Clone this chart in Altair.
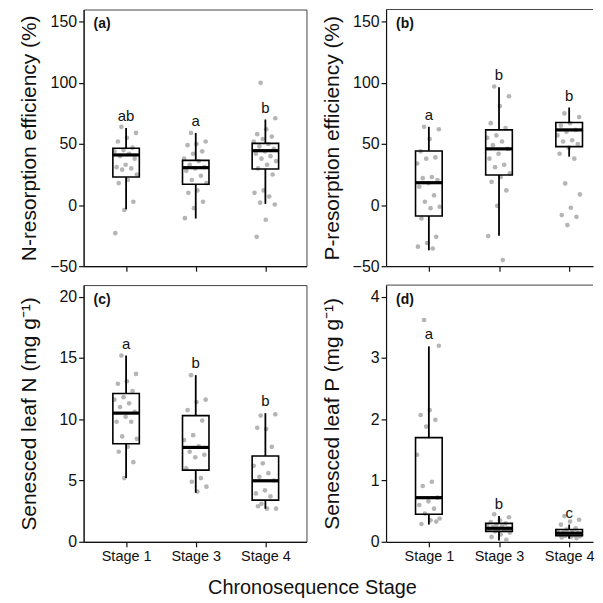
import altair as alt
import pandas as pd

FONT = "Liberation Sans"

stages = ["Stage 1", "Stage 3", "Stage 4"]

# Panel (a) N-resorption efficiency
a_s1 = [64, 59, 55, 52, 47, 45, 44, 42, 40, 38, 33, 31, 30, 29, 25, 20.5, 18, 2.7, -4, -23]
a_s3 = [59, 52, 50, 49, 44, 42, 38, 36, 33, 31, 30, 28, 24, 20.5, 18, 12, 10, 2.7, -2.5, -10.7]
a_s4 = [100, 71, 62, 58, 56, 54, 52, 50, 48, 46, 44, 42, 40, 38, 36, 33, 30, 25, 12, 10, 7, 2, 0.5, -12, -26]
a_q1 = [23, 17, 29.5]
a_med = [41, 30.6, 44.5]
a_q3 = [46.5, 36.6, 50.5]
a_lo = [-3.5, -11, 1]
a_hi = [63, 59, 70]
a_let = ["ab", "a", "b"]

# Panel (b) P-resorption efficiency
b_s1 = [64, 62, 54, 44, 39, 38, 34, 23, 22, 20.5, 18, 15, 8, 2.7, -1.4, -2.5, -11, -26, -31, -34, -35.5]
b_s3 = [97, 89, 81, 67, 63, 57, 55, 52, 49, 46, 42, 38, 33, 31, 26, 23, 19, 12, -0.6, -25.4, -45]
b_s4 = [75, 72, 67, 65, 61.5, 60, 57, 53, 52, 50, 47, 42, 38, 17.7, 8.7, -2.2, -8.2, -9.6, -16.4]
b_q1 = [-9, 24.6, 47.8]
b_med = [18.3, 46, 61.5]
b_q3 = [44.3, 61.5, 67.5]
b_lo = [-37, -25, 39.6]
b_hi = [64, 96.4, 79.8]
b_let = ["a", "b", "b"]

# Panel (c) Senesced leaf N
c_s1 = [15.2, 13.7, 13.1, 12.9, 12.3, 11.8, 11.6, 11.3, 11.0, 10.6, 10.2, 9.8, 9.8, 8.6, 8.4, 7.75, 7.35, 6.5, 5.2]
c_s3 = [13.6, 11.6, 11.4, 10.75, 9.9, 8.7, 8.3, 7.8, 7.35, 7.1, 6.9, 6.0, 5.2, 4.9, 4.5, 4.1]
c_s4 = [10.3, 10.4, 9.2, 9.3, 7.75, 6.4, 6.2, 5.6, 5.3, 5.0, 4.2, 3.95, 3.7, 3.1, 2.7, 2.7, 2.9]
c_q1 = [8.0, 5.85, 3.4]
c_med = [10.5, 7.7, 4.98]
c_q3 = [12.1, 10.3, 7.0]
c_lo = [5.2, 4.0, 2.7]
c_hi = [15.2, 13.6, 10.5]
c_let = ["a", "b", "b"]

# Panel (d) Senesced leaf P
d_s1 = [3.62, 3.2, 2.15, 2.07, 1.99, 1.88, 1.42, 0.98, 0.91, 0.72, 0.66, 0.6, 0.54, 0.46, 0.38, 0.35, 0.29, 0.33]
d_s3 = [0.45, 0.4, 0.35, 0.32, 0.3, 0.28, 0.26, 0.25, 0.24, 0.22, 0.21, 0.2, 0.19, 0.17, 0.15, 0.12, 0.08, 0.03]
d_s4 = [0.42, 0.36, 0.33, 0.28, 0.22, 0.2, 0.18, 0.16, 0.15, 0.14, 0.13, 0.12, 0.11, 0.1, 0.09, 0.08, 0.07, 0.06]
d_q1 = [0.45, 0.17, 0.10]
d_med = [0.72, 0.22, 0.14]
d_q3 = [1.70, 0.30, 0.20]
d_lo = [0.28, 0.02, 0.05]
d_hi = [3.19, 0.42, 0.28]
d_let = ["a", "b", "c"]

LABEL_EXPR = "['', 'Stage 1', 'Stage 3', 'Stage 4'][datum.value]"


def panel(tag, ytitle, pts, q1, med, q3, lo, hi, letters, ydom, yticks,
          xdom, width, show_xlabels, right_border):
    prow = []
    for k, vals in enumerate(pts):
        for i, v in enumerate(vals):
            prow.append({"pos": k + 1, "value": v, "i": i})
    pdf = pd.DataFrame(prow)
    bdf = pd.DataFrame({"pos": [1, 2, 3], "stage": stages, "q1": q1, "med": med,
                        "q3": q3, "lo": lo, "hi": hi, "let": letters})

    xs = alt.Scale(domain=xdom, nice=False, zero=False)
    ys = alt.Scale(domain=ydom, nice=False, zero=False)
    xaxis = alt.Axis(values=[1, 2, 3], labelExpr=LABEL_EXPR, labels=show_xlabels,
                     title=None, grid=False, tickSize=5, labelPadding=3)
    yaxis = alt.Axis(values=yticks, title=ytitle, grid=False, tickSize=5, format="d",
                     labelPadding=2, titleX=-54, titleBaseline="middle")

    points = alt.Chart(pdf).transform_calculate(
        xj="datum.pos + (((datum.i * 0.618034 + 0.3) % 1) - 0.5) * 0.34"
    ).mark_circle(size=22, color="#a8a8a8", opacity=0.85).encode(
        x=alt.X("xj:Q", scale=xs, axis=xaxis),
        y=alt.Y("value:Q", scale=ys, axis=yaxis),
    )

    base = alt.Chart(bdf).transform_calculate(
        xl="datum.pos - 0.19", xr="datum.pos + 0.19"
    )
    box = base.mark_bar(fill=None, stroke="black", strokeWidth=1.6).encode(
        x=alt.X("xl:Q", scale=xs), x2="xr:Q",
        y=alt.Y("q1:Q", scale=ys), y2="q3:Q",
    )
    wlow = base.mark_rule(color="black", strokeWidth=1.8).encode(
        x=alt.X("pos:Q", scale=xs), y=alt.Y("lo:Q", scale=ys), y2="q1:Q"
    )
    whigh = base.mark_rule(color="black", strokeWidth=1.8).encode(
        x=alt.X("pos:Q", scale=xs), y=alt.Y("q3:Q", scale=ys), y2="hi:Q"
    )
    medl = base.mark_rule(color="black", strokeWidth=3.2).encode(
        x=alt.X("xl:Q", scale=xs), x2="xr:Q", y=alt.Y("med:Q", scale=ys)
    )
    lets = base.mark_text(fontSize=15, font=FONT, baseline="bottom", dy=-4,
                          color="#111").encode(
        x=alt.X("pos:Q", scale=xs), y=alt.Y("hi:Q", scale=ys), text="let:N"
    )
    tagdf = pd.DataFrame({"t": [tag]})
    tagc = alt.Chart(tagdf).mark_text(
        fontSize=14, font=FONT, fontWeight="bold", align="left", baseline="middle",
        color="#111"
    ).encode(x=alt.value(10), y=alt.value(15), text="t:N")

    layers = [points, box, wlow, whigh, medl, lets, tagc]
    props = dict(width=width, height=258)
    if not right_border:
        topline = alt.Chart(tagdf).mark_rule(color="#444", strokeWidth=1).encode(
            x=alt.value(0), x2=alt.value(width), y=alt.value(0)
        )
        layers.append(topline)
        props["view"] = alt.ViewBackground(stroke="transparent")
    return alt.layer(*layers).properties(**props)


XL = [0.39, 3.59]
XR = [0.39, 3.34]
WL = 224
WR = 208

pa = panel("(a)", "N-resorption efficiency (%)", [a_s1, a_s3, a_s4], a_q1, a_med, a_q3,
           a_lo, a_hi, a_let, [-50, 160], [-50, 0, 50, 100, 150], XL, WL, False, True)
pb = panel("(b)", "P-resorption efficiency (%)", [b_s1, b_s3, b_s4], b_q1, b_med, b_q3,
           b_lo, b_hi, b_let, [-50, 160], [-50, 0, 50, 100, 150], XR, WR, False, False)
pc = panel("(c)", "Senesced leaf N (mg g\u207b\u00b9)", [c_s1, c_s3, c_s4], c_q1, c_med, c_q3,
           c_lo, c_hi, c_let, [0, 20.95], [0, 5, 10, 15, 20], XL, WL, True, True)
pd_ = panel("(d)", "Senesced leaf P (mg g\u207b\u00b9)", [d_s1, d_s3, d_s4], d_q1, d_med, d_q3,
            d_lo, d_hi, d_let, [0, 4.19], [0, 1, 2, 3, 4], XR, WR, True, False)

chart = alt.concat(pa, pb, pc, pd_, columns=2,
                   spacing={"row": 9, "column": 13}).properties(
    title=alt.TitleParams("Chronosequence Stage", orient="bottom", anchor="middle",
                          fontSize=20, font=FONT, fontWeight="normal", color="#111",
                          offset=14, dx=6),
    padding={"left": 10, "top": -1, "right": 0, "bottom": 0},
).configure_view(
    stroke="#444", strokeWidth=1
).configure_axis(
    labelFont=FONT, titleFont=FONT, labelFontSize=16, titleFontSize=21,
    titleFontWeight="normal", labelColor="#111", titleColor="#111",
    domainColor="#111", tickColor="#111", domainWidth=1.2, tickWidth=1.2
).configure_axisX(labelFontSize=14.5)

chart.save("out.html", embed_options={"renderer": "svg", "actions": False})
